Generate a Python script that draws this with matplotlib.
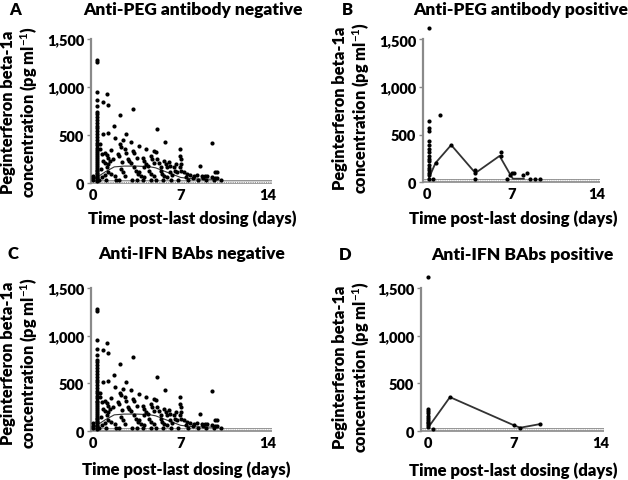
import matplotlib
matplotlib.use("Agg")
import matplotlib.pyplot as plt
from matplotlib.ticker import FuncFormatter

plt.rcParams['font.family'] = ['Lato', 'DejaVu Sans']
plt.rcParams['font.weight'] = 'bold'
plt.rcParams['mathtext.fontset'] = 'custom'
plt.rcParams['mathtext.rm'] = 'Lato:bold'
plt.rcParams['mathtext.bf'] = 'Lato:bold'

# ---- data ----
# samples taken right after dosing (day ~0.3), anti-PEG negative
a_day0_y = [20, 35, 50, 65, 80, 95, 110, 125, 140, 160, 180, 200, 220, 240, 260, 280,
            300, 320, 345, 370, 395, 420, 450, 480, 510, 540, 570, 600, 630, 660, 690,
            720, 745, 800, 865, 951, 1259, 1283]
a_x = [0.0, 0.0, 0.0,
       1.13, 0.81, 1.21, 3.23, 2.13, 1.65, 0.81, 1.21, 2.65, 5.09, 1.78, 2.39, 3.04, 3.67,
       5.75, 4.2, 4.88, 5.0, 6.98, 9.53, 2.13, 2.2, 2.52, 2.65, 3.18, 3.3, 2.0, 2.07, 0.94,
       1.08, 1.21, 0.81, 0.94, 0.55, 0.55, 2.78, 2.91, 3.04, 3.96, 4.09, 4.23, 4.09, 4.62,
       4.75, 4.88, 5.14, 5.28, 5.67, 5.8, 5.93, 6.06, 6.19, 6.98, 7.03, 7.06, 6.98, 7.06,
       6.46, 6.59, 6.72, 7.24, 7.5, 7.77, 8.03, 8.29, 8.69, 8.95, 9.13, 8.56, 9.74, 9.92,
       9.47, 9.74, 9.87, 2.26, 2.39, 2.52, 3.3, 3.44, 3.57, 3.7, 3.83, 4.09, 4.49, 4.62,
       4.88, 5.41, 5.54, 5.67, 5.93, 6.19, 6.33, 1.73, 1.47, 1.21, 0.94, 0.68, 1.08, 1.21,
       1.34, 0.7, 0.6, 1.4, 1.6, 2.3, 3.5, 4.4, 5.4, 6.6, 7.4, 8.0, 8.8,
       0.5, 1.0, 1.8, 2.1, 3.1, 3.5, 4.0, 4.6, 5.0, 5.6, 6.2, 6.8, 7.6, 8.4, 9.0, 9.7, 10.2]
a_y = [80, 55, 30,
       927, 848, 814, 776, 708, 592, 513, 523, 513, 564, 465, 445, 431, 386,
       431, 352, 335, 328, 352, 421, 404, 380, 352, 318, 335, 311, 301, 284, 318,
       291, 267, 233, 215, 352, 404, 250, 233, 215, 267, 233, 198, 164, 284,
       250, 215, 250, 215, 233, 198, 164, 222, 181, 284, 250, 198, 164, 130,
       164, 130, 113, 113, 96, 89, 79, 86, 79, 79, 79, 178, 120, 120,
       62, 51, 51, 147, 113, 79, 164, 130, 96, 113, 79, 62, 130, 96,
       79, 130, 96, 79, 62, 113, 89, 79, 96, 113, 86, 68, 164, 198,
       233, 300, 150, 350, 250, 220, 260, 180, 170, 200, 60, 55, 50,
       35, 35, 35, 35, 35, 35, 35, 35, 35, 35, 35, 35, 35, 35, 35, 35, 35]
a_med_x = [0.0, 0.3, 1.0, 1.7, 2.5, 3.5, 4.5, 5.0, 6.0, 7.0, 8.0, 10.0]
a_med_y = [40, 60, 120, 170, 178, 178, 172, 160, 110, 60, 45, 40]

# anti-PEG positive
b_day0_y = [35, 70, 98, 122, 147, 182, 217, 245, 273, 315, 350, 385, 437, 542, 567, 647]
b_x = [0.15, 1.07, 0.5, 0.74, 2.0, 4.0, 4.0, 4.0, 6.1, 6.1, 6.6, 6.85, 7.0, 7.2, 7.9, 8.3,
       8.5, 8.9, 9.3]
b_y = [1617, 710, 35, 203, 392, 122, 95, 35, 315, 273, 35, 77, 95, 95, 72, 93, 30, 30, 30]
b_med_x = [0.15, 0.7, 2.0, 4.0, 6.0, 6.9, 7.1, 8.0]
b_med_y = [40, 200, 390, 95, 275, 75, 35, 35]

# anti-IFN BAbs negative (same population as A, visually)
c_day0_y = a_day0_y
c_x = a_x
c_y = a_y
c_med_x = a_med_x
c_med_y = a_med_y

# anti-IFN BAbs positive
d_day0_y = [40, 60, 80, 100, 120, 140, 160, 185, 210, 227]
d_x = [0.05, 0.4, 1.8, 7.0, 7.5, 9.1]
d_y = [1616, 25, 356, 60, 35, 73]
d_med_x = [0.05, 1.8, 7.0, 7.5, 9.1]
d_med_y = [40, 356, 60, 35, 73]

fig = plt.figure(figsize=(6.28, 4.81), dpi=100)
W, H = 628.0, 481.0
WT = 'heavy'


def make_panel(rect, x0, day0_x, day0_y, xs, ys, mx, my, letter, title, lpos, tpos, xlpos, ylpos, line_w):
    ax = fig.add_axes(rect)
    ax.set_xlim(x0, 14.3)
    ax.set_ylim(-30, 1650)
    # LLOQ band along the x-axis
    ax.fill_between([x0, 14.3], 0, 35, color='#cfcfcf', lw=0, zorder=1)
    ax.plot([x0, 14.3], [0, 0], color='#8a8a8a', lw=1.2, zorder=1)
    ax.plot([x0, 14.3], [35, 35], color='#8a8a8a', lw=0.6, zorder=1)
    ax.plot([x0, 14.3], [17, 17], color='white', lw=0.8, ls=(0, (1, 1)), zorder=1)
    ax.plot(mx, my, color='#333333', lw=line_w, zorder=2)
    ax.plot([day0_x] * len(day0_y), day0_y, 'o', color='black', ms=3.0, mew=0, zorder=3, clip_on=False)
    ax.plot(xs, ys, 'o', color='black', ms=3.0, mew=0, zorder=3, clip_on=False)
    for s in ['top', 'right', 'bottom']:
        ax.spines[s].set_visible(False)
    ax.spines['left'].set_bounds(0, 1500)
    ax.spines['left'].set_color('#8a8a8a')
    ax.spines['left'].set_linewidth(1.6)
    ax.set_yticks([0, 500, 1000, 1500])
    ax.yaxis.set_major_formatter(FuncFormatter(lambda v, p: '{:,}'.format(int(v))))
    ax.set_xticks([0, 7, 14])
    ax.tick_params(axis='y', length=3, width=1, color='#8a8a8a', labelsize=10.5, pad=2)
    ax.tick_params(axis='x', length=0, labelsize=10.5, pad=1.5)
    for lab in ax.get_xticklabels() + ax.get_yticklabels():
        lab.set_fontweight(WT)
    fig.text(lpos[0] / W, 1 - lpos[1] / H, letter, fontsize=12, fontweight=WT, ha='center', va='center')
    fig.text(tpos[0] / W, 1 - tpos[1] / H, title, fontsize=12.5, fontweight=WT, ha='center', va='center')
    fig.text(xlpos[0] / W, 1 - xlpos[1] / H, 'Time post-last dosing (days)', fontsize=12,
             fontweight=WT, ha='center', va='center')
    fig.text(ylpos[0] / W, 1 - ylpos[1] / H,
             'Peginterferon beta-1a\nconcentration (pg ml$^{-1}$)',
             fontsize=11.8, fontweight=WT, rotation=90, ha='center', va='center',
             multialignment='center', linespacing=1.1)
    return ax


make_panel([91 / W, 0.611, 181 / W, 0.336], -0.16, 0.3, a_day0_y, a_x, a_y, a_med_x, a_med_y,
           'A', 'Anti-PEG antibody negative', (15, 10), (193, 10), (192, 219), (20, 112), 0.8)
make_panel([423 / W, 0.6135, 177 / W, 0.332], -0.33, 0.15, b_day0_y, b_x, b_y, b_med_x, b_med_y,
           'B', 'Anti-PEG antibody positive', (347, 10), (521, 10), (513, 219), (352, 108), 1.3)
make_panel([91 / W, 0.0958, 181 / W, 0.333], -0.16, 0.3, c_day0_y, c_x, c_y, c_med_x, c_med_y,
           'C', 'Anti-IFN BAbs negative', (13, 254), (192, 254), (186, 470), (20, 363), 0.8)
make_panel([421 / W, 0.0958, 183 / W, 0.333], -0.55, 0.05, d_day0_y, d_x, d_y, d_med_x, d_med_y,
           'D', 'Anti-IFN BAbs positive', (345, 255), (522, 255), (513, 471), (352, 367), 1.3)

fig.savefig('out.png', dpi=100)
